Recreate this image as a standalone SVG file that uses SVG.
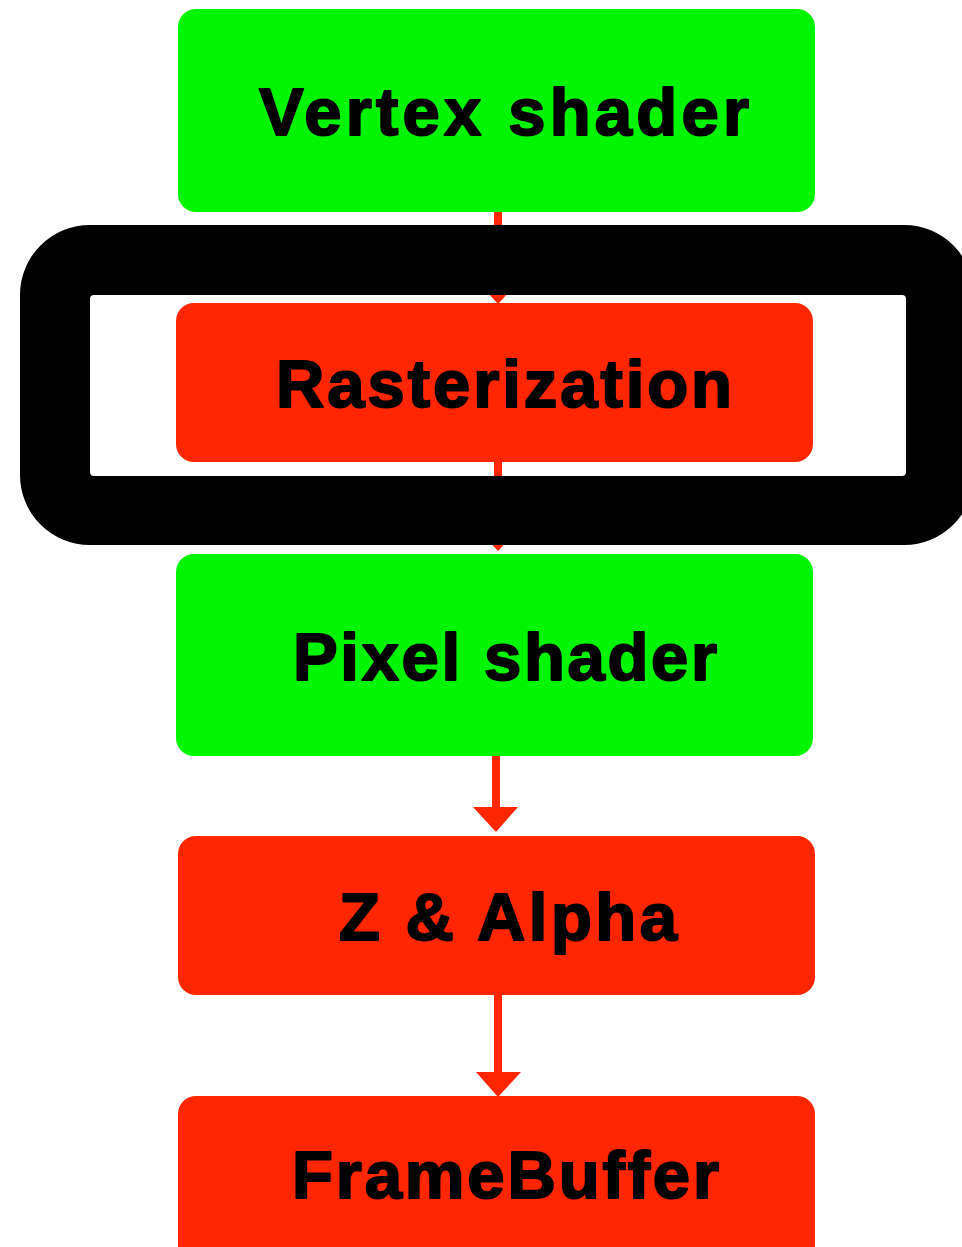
<svg xmlns="http://www.w3.org/2000/svg" width="962" height="1247" viewBox="0 0 962 1247">
  <style>
    .green { fill: #00F500; }
    .red { fill: #FF2600; }
    .label { font-family: "Liberation Sans", Arial, sans-serif; font-weight: bold; font-size: 67px; fill: #000; stroke: #000; stroke-width: 2; stroke-linejoin: round; }
    .wire { stroke: #FF2600; stroke-width: 8; fill: none; }
    .head { fill: #FF2600; }
  </style>
  <rect width="962" height="1247" fill="#fff"/>

  <!-- pipeline connectors -->
  <g id="connectors">
    <line class="wire" x1="498" y1="210" x2="498" y2="285"/>
    <polygon class="head" points="476,280 520,280 498,304"/>
    <line class="wire" x1="498" y1="460" x2="498" y2="532"/>
    <polygon class="head" points="476,527 520,527 498,551"/>
    <line class="wire" x1="496" y1="755" x2="496" y2="812"/>
    <polygon class="head" points="473,807 518,807 496,832"/>
    <line class="wire" x1="498" y1="994" x2="498" y2="1077"/>
    <polygon class="head" points="476,1072 521,1072 498,1097"/>
  </g>

  <g id="vertex-shader">
    <rect class="green" x="178" y="9" width="637" height="203" rx="18"/>
    <text class="label" x="259" y="135" textLength="490" lengthAdjust="spacing">Vertex shader</text>
  </g>

  <g id="rasterization">
    <rect class="red" x="176" y="303" width="637" height="159" rx="18"/>
    <text class="label" x="276" y="407" textLength="456" lengthAdjust="spacing">Rasterization</text>
  </g>

  <g id="pixel-shader">
    <rect class="green" x="176" y="554" width="637" height="202" rx="18"/>
    <text class="label" x="293" y="680" textLength="424" lengthAdjust="spacing">Pixel shader</text>
  </g>

  <g id="z-alpha">
    <rect class="red" x="178" y="836" width="637" height="159" rx="18"/>
    <text class="label" x="339" y="940" textLength="338" lengthAdjust="spacing">Z &amp; Alpha</text>
  </g>

  <g id="framebuffer">
    <rect class="red" x="178" y="1096" width="637" height="170" rx="18"/>
    <text class="label" x="292" y="1198" textLength="427" lengthAdjust="spacing">FrameBuffer</text>
  </g>

  <!-- heavy highlight frame around the rasterization stage -->
  <g id="highlight">
    <path fill="#000" fill-rule="evenodd" d="M90,225 H904 A70,70 0 0 1 974,295 V475 A70,70 0 0 1 904,545 H90 A70,70 0 0 1 20,475 V295 A70,70 0 0 1 90,225 Z M94,295 H902 A4,4 0 0 1 906,299 V472 A4,4 0 0 1 902,476 H94 A4,4 0 0 1 90,472 V299 A4,4 0 0 1 94,295 Z"/>
  </g>
</svg>
